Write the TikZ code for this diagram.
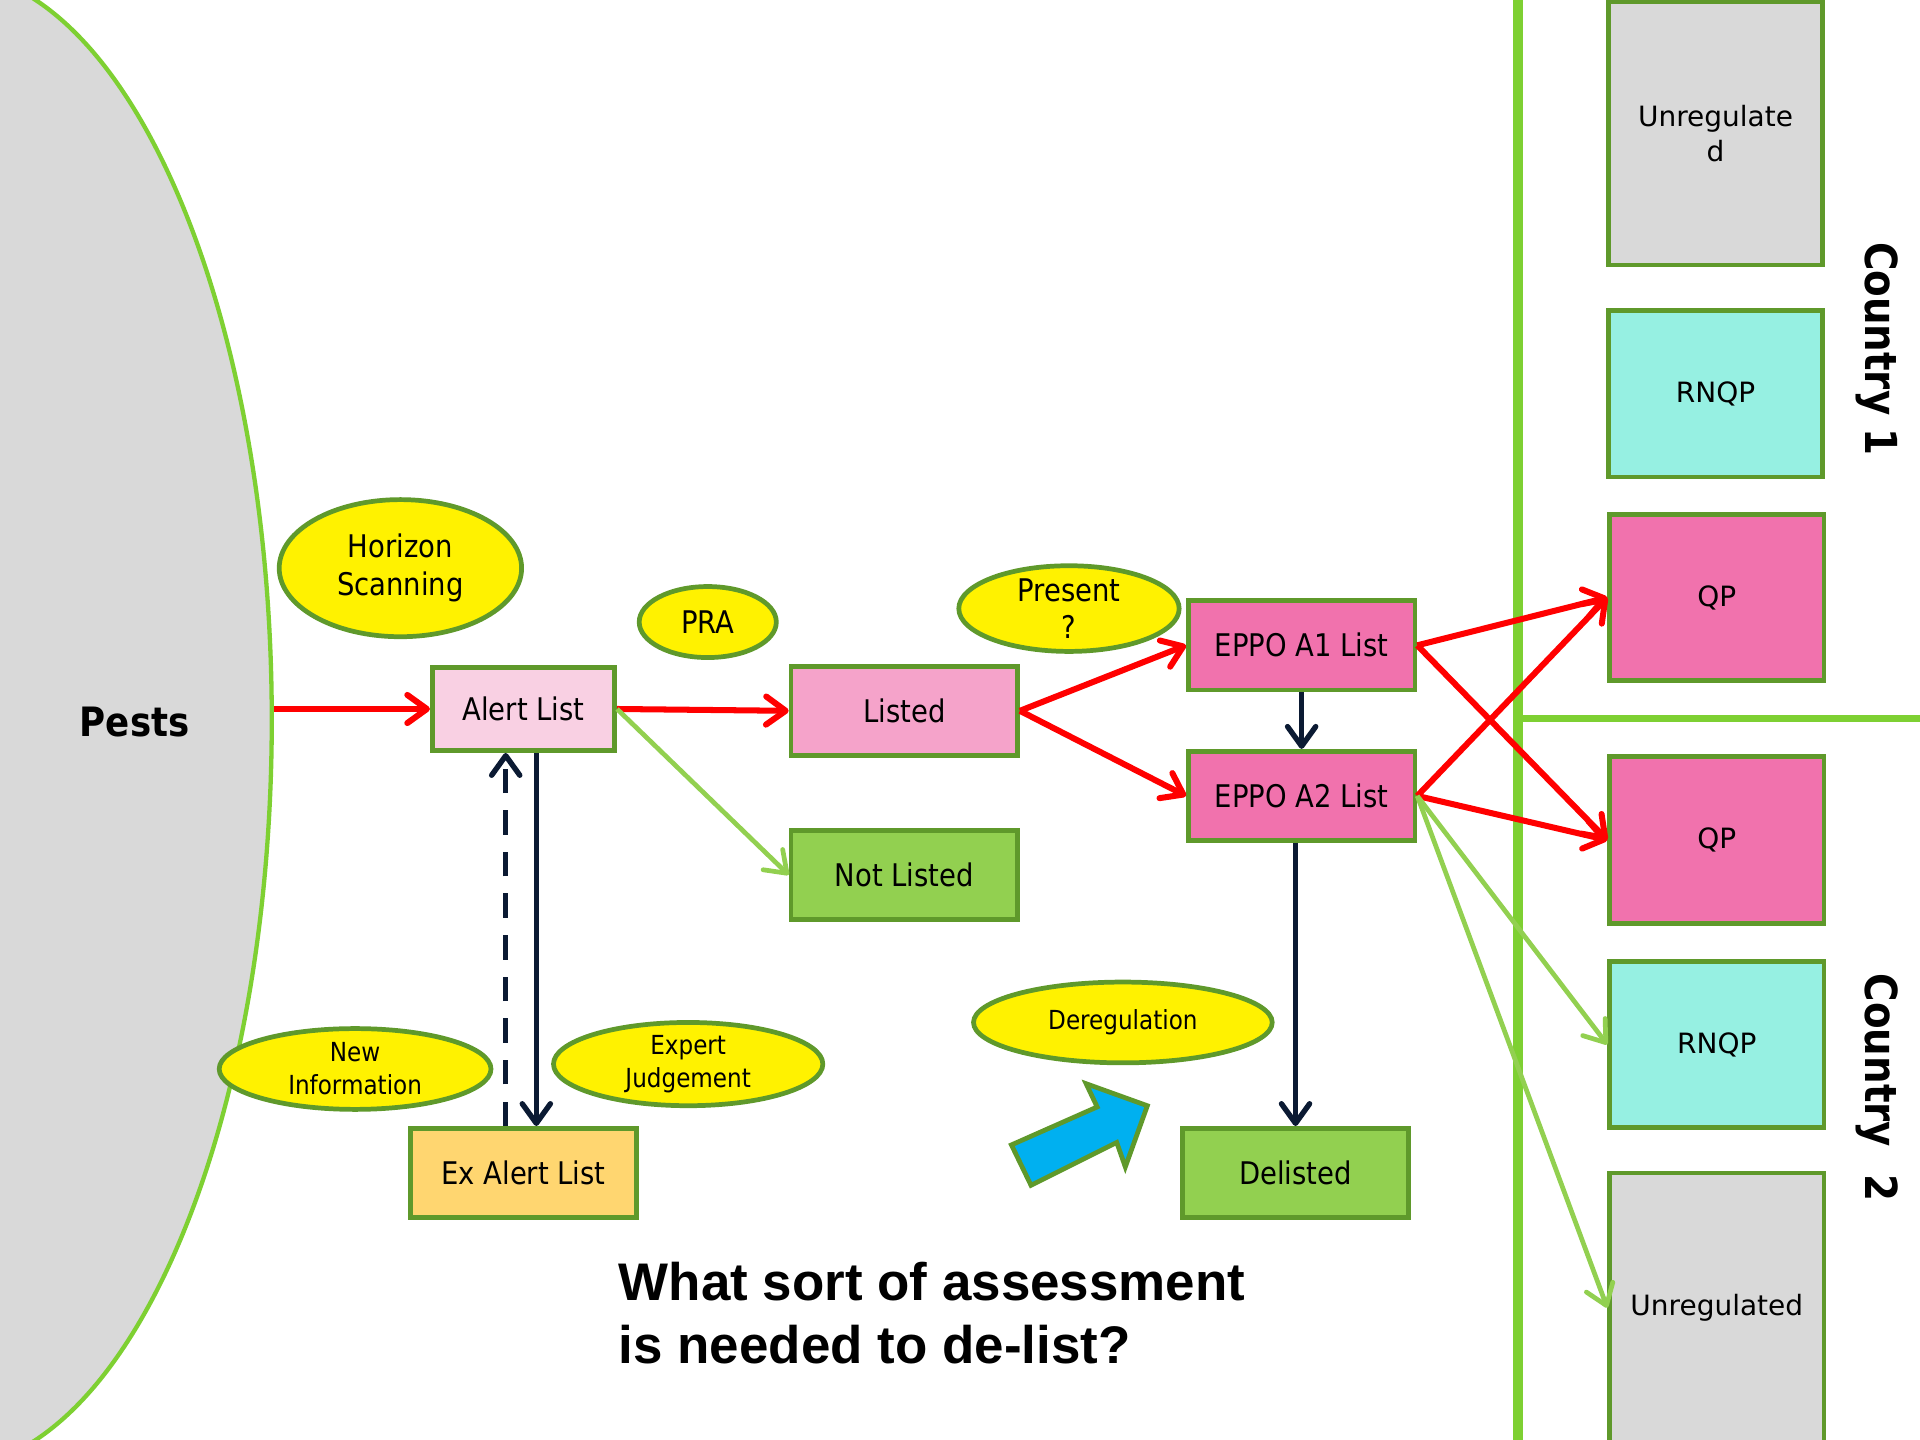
\documentclass[tikz,border=0pt]{standalone}
\usepackage{fontspec}
\setmainfont{DejaVu Sans}[FakeStretch=0.88]
\newfontfamily\wide{DejaVu Sans}
\newfontfamily\arial{Liberation Sans}
\usetikzlibrary{shapes.geometric,arrows.meta}
\definecolor{pestgray}{HTML}{D9D9D9}
\definecolor{lime}{HTML}{7ED032}
\definecolor{dkgreen}{HTML}{5F992B}
\definecolor{ltgreen}{HTML}{92D050}
\definecolor{pink1}{HTML}{F9D0E3}
\definecolor{pink2}{HTML}{F5A3CA}
\definecolor{pink3}{HTML}{F172AD}
\definecolor{aqua}{HTML}{96F0E2}
\definecolor{gold}{HTML}{FFD670}
\definecolor{navy}{HTML}{0B1A33}
\definecolor{sky}{HTML}{00B0F0}
\tikzstyle{box}=[draw=dkgreen, line width=2.2pt, minimum width=3.7cm, minimum height=1.46cm, font=\fontsize{14.5}{17}\selectfont]
\tikzstyle{cbox}=[draw=dkgreen, line width=2.2pt, minimum width=3.5cm, minimum height=2.72cm, align=center, font=\wide\fontsize{13}{16}\selectfont]
\tikzstyle{oval}=[ellipse, draw=dkgreen, line width=2.2pt, fill=yellow, inner sep=0pt, align=center, font=\fontsize{14.5}{17.5}\selectfont]
\tikzstyle{smalltxt}=[font=\fontsize{12.2}{15.3}\selectfont]
\tikzstyle{hotline}=[->, red, line width=2.8pt]
\tikzstyle{greenline}=[->, ltgreen, line width=2.2pt]
\tikzstyle{darkline}=[->, navy, line width=2.5pt]

\begin{document}
\begin{tikzpicture}[x=0.02cm,y=-0.02cm,>={Straight Barb[length=0.32cm,width=0.46cm,round]}]
    \useasboundingbox (0,0) rectangle (1568,1176);
    % pests and the two countries
    \node [ellipse, draw=lime, fill=pestgray, line width=2pt, inner sep=0pt, minimum width=10.68cm, minimum height=24.48cm] (pests) at (-45,588) {};
    \node [font=\bfseries\fontsize{18.8}{22}\selectfont] (pestlbl) at (110,590) {Pests};
    \draw [lime, line width=4.6pt] (1240,-5) -- (1240,1181);
    \draw [lime, line width=3.1pt] (1240,587) -- (1573,587);

    \node [box, fill=pink1, minimum width=2.98cm, minimum height=1.36cm] (alert) at (427.5,579) {Alert List};
    \node [box, fill=pink2] (listed) at (738.5,580.5) {Listed};
    \node [box, fill=ltgreen] (notl) at (738.5,714.5) {Not Listed};
    \node [box, fill=pink3] (a1) at (1063,527) {EPPO A1 List};
    \node [box, fill=pink3] (a2) at (1063,650) {EPPO A2 List};
    \node [box, fill=gold] (exal) at (427.5,958) {Ex Alert List};
    \node [box, fill=ltgreen] (del) at (1058,958) {Delisted};

    \node [oval, minimum width=3.96cm, minimum height=2.24cm] (hs) at (327,464) {Horizon\\Scanning};
    \node [oval, minimum width=2.24cm, minimum height=1.16cm] (pra) at (578,508) {PRA};
    \node [oval, minimum width=3.6cm, minimum height=1.4cm] (pres) at (873,497) {Present\\?};
    \node [oval, smalltxt, minimum width=4.44cm, minimum height=1.32cm] (newinf) at (290,873) {New\\Information};
    \node [oval, smalltxt, minimum width=4.4cm, minimum height=1.36cm] (expj) at (562,869) {Expert\\Judgement};
    \node [oval, smalltxt, minimum width=4.88cm, minimum height=1.32cm] (dereg) at (917,835) {Deregulation};

    \node [cbox, fill=pestgray, minimum height=4.3cm] (unreg1) at (1401,109) {Unregulate\\d};
    \node [cbox, fill=aqua] (rnqp1) at (1401,321.5) {RNQP};
    \node [cbox, fill=pink3] (qp1) at (1402,488) {QP};
    \node [cbox, fill=pink3] (qp2) at (1402,686) {QP};
    \node [cbox, fill=aqua] (rnqp2) at (1402,853) {RNQP};
    \node [cbox, fill=pestgray, minimum height=4.4cm] (unreg2) at (1402,1068) {Unregulated};
    \node [rotate=-90, font=\bfseries\fontsize{20.5}{24}\selectfont] (c1) at (1533,285) {Country 1};
    \node [rotate=-90, font=\bfseries\fontsize{20.5}{24}\selectfont] (c2) at (1533,888) {Country\ \ 2};

    \node [anchor=north west, align=left, inner sep=0pt, font=\arial\bfseries\fontsize{24.6}{29.6}\selectfont] (q) at (505,1030) {What sort of assessment\\is needed to de-list?};

    % big blue arrow
    \draw [dkgreen, fill=sky, line width=2.2pt] (826,935) -- (896,904) -- (887,885) -- (937,903) -- (919,953) -- (912,933) -- (842,968) -- cycle;

    \draw [hotline] (pests.east |- alert.west) -- (alert.west);
    \draw [hotline] (alert.east) -- (listed.west);
    \draw [hotline] (listed.east) -- (a1.west);
    \draw [hotline] (listed.east) -- (a2.west);
    \draw [hotline] (a1.east) -- (qp1.west);
    \draw [hotline] (a1.east) -- (qp2.west);
    \draw [hotline] (a2.east) -- (qp1.west);
    \draw [hotline] (a2.east) -- (qp2.west);
    \draw [greenline] (alert.east) -- (notl.west);
    \draw [greenline] (a2.east) -- (rnqp2.west);
    \draw [greenline] (a2.east) -- (unreg2.west);
    \draw [darkline] (a1.south) -- (a2.north);
    \draw [darkline] (a2.south -| del.north) -- (del.north);
    \draw [darkline] ([xshift=0.21cm]alert.south) -- ([xshift=0.21cm]exal.north);
    \draw [darkline, dash pattern=on 0.4cm off 0.28cm] ([xshift=-0.29cm]exal.north) -- ([xshift=-0.29cm]alert.south);
\end{tikzpicture}
\end{document}
